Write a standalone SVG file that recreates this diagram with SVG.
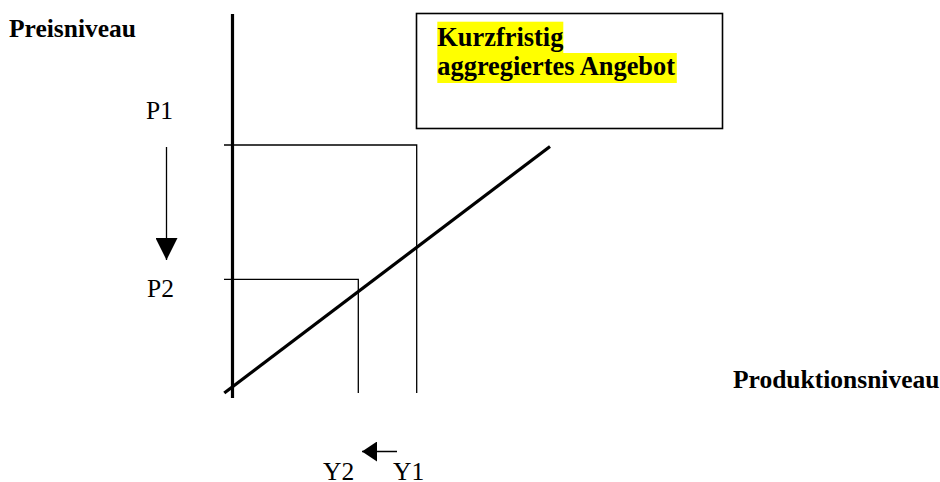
<svg xmlns="http://www.w3.org/2000/svg" width="940" height="482" viewBox="0 0 940 482">
<style>
text{font-family:"Liberation Serif","Times New Roman",serif;font-size:25.5px;fill:#000}
.b{font-weight:bold}
.thin{stroke:#000;stroke-width:1.3;fill:none}
.thick{stroke:#000;stroke-width:3.2;fill:none}
</style>
<defs>
<marker id="ah" markerUnits="userSpaceOnUse" markerWidth="22" markerHeight="22" refX="22" refY="11" orient="auto">
<path d="M0,0 L22,11 L0,22 Z" fill="#000"/>
</marker>
<marker id="ah2" markerUnits="userSpaceOnUse" markerWidth="15" markerHeight="20" refX="15" refY="10" orient="auto">
<path d="M0,0 L15,10 L0,20 Z" fill="#000"/>
</marker>
</defs>
<rect width="940" height="482" fill="#fff"/>
<g id="axes">
<line class="thick" x1="232.5" y1="14" x2="232.5" y2="398"/>
</g>
<g id="connectors">
<polyline class="thin" points="224,145 416.7,145 416.7,393"/>
<polyline class="thin" points="224,279.3 358.3,279.3 358.3,393"/>
<line class="thick" x1="224.3" y1="393" x2="550" y2="146.5"/>
<line class="thin" x1="166.5" y1="147" x2="166.5" y2="260" marker-end="url(#ah)"/>
<line class="thin" x1="397" y1="451.5" x2="362" y2="451.5" marker-end="url(#ah2)"/>
</g>
<g id="label-box">
<rect x="416.5" y="13.5" width="306" height="115" fill="#fff" stroke="#000" stroke-width="1.6"/>
<rect x="437.3" y="21.7" width="126" height="31.5" fill="#ffff00"/>
<rect x="437.3" y="53" width="239.5" height="30" fill="#ffff00"/>
<text class="b" x="437.3" y="45.5" style="font-size:26.4px">Kurzfristig</text>
<text class="b" x="437.3" y="74.5" style="font-size:26.4px">aggregiertes Angebot</text>
</g>
<g id="labels">
<text class="b" x="9" y="37">Preisniveau</text>
<text class="b" x="733" y="388">Produktionsniveau</text>
<text x="146" y="119">P1</text>
<text x="147" y="297">P2</text>
<text x="323" y="480">Y2</text>
<text x="393" y="480">Y1</text>
</g>
</svg>
